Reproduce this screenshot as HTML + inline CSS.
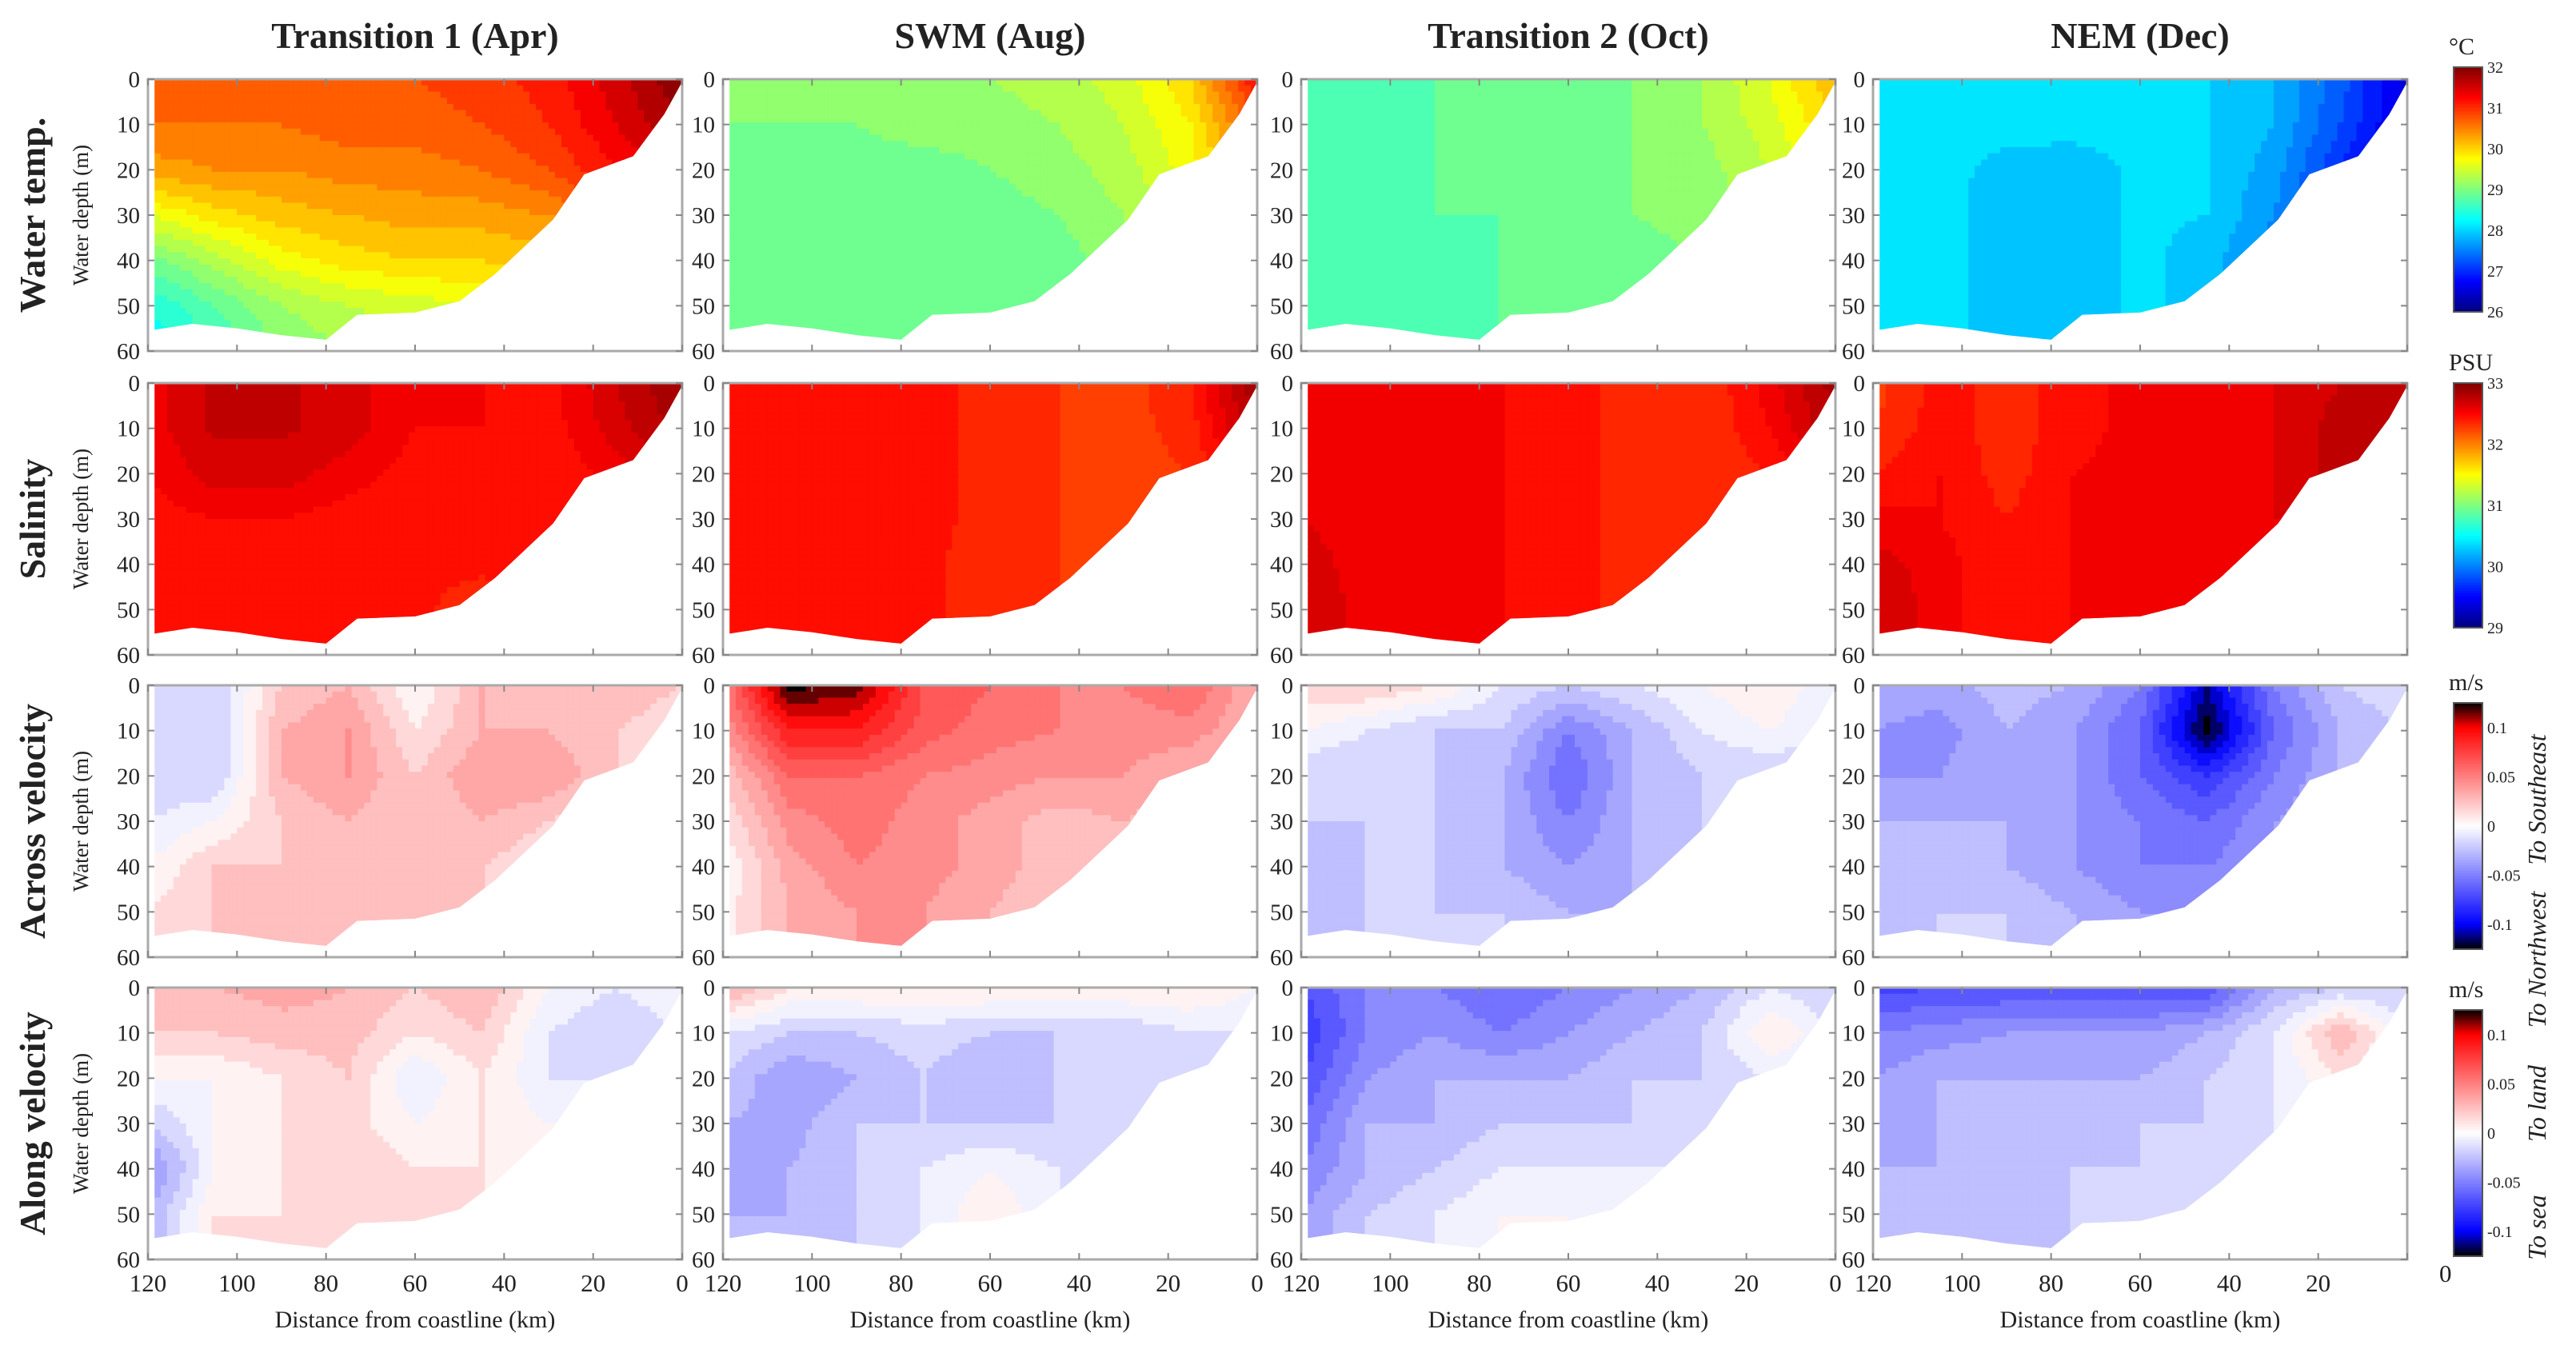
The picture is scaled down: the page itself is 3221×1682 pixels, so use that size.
<!DOCTYPE html>
<html><head><meta charset="utf-8">
<style>
html,body{margin:0;padding:0;background:#fff;}
svg{display:block;}
text{font-family:"Liberation Serif",serif;fill:#222;}
</style></head>
<body>
<svg id="fig" width="3221" height="1682" viewBox="0 0 3221 1682" xmlns="http://www.w3.org/2000/svg"></svg>
<script>
// ---------- data ----------
const distances = [120,105,90,75,60,45,30,15,0];   // km
const depths = [0,10,20,30,40,50,60];               // m
const bathyKm = [120,110,100,90,80,73,60,50,42,29,22,11,4,0];
const bathyDepth = [55.3,54,55,56.5,57.5,52,51.5,49,43,31,21,17,7.7,0.6];
const colTitles = ["Transition 1 (Apr)","SWM (Aug)","Transition 2 (Oct)","NEM (Dec)"];
const rowTitles = ["Water temp.","Salinity","Across velocity","Along velocity"];
const xTicks = [120,100,80,60,40,20,0];
const yTicks = [0,10,20,30,40,50,60];
const cbTempTicks = [32,31,30,29,28,27,26];
const cbSalTicks = [33,32,31,30,29];
const cbVelTicks = [0.1,0.05,0,-0.05,-0.1];
const cbVelLabels = ["0.1","0.05","0","-0.05","-0.1"];

const tempApr = [
[30.8,30.8,30.8,30.8,30.8,30.9,31.1,31.5,32],
[30.6,30.6,30.6,30.7,30.7,30.8,31.0,31.4,31.8],
[30.3,30.4,30.4,30.5,30.5,30.6,30.8,31.2,31.5],
[29.6,29.9,30.1,30.2,30.3,30.3,30.4,30.8,31.0],
[28.9,29.3,29.7,29.9,30.0,30.0,30.1,30.3,30.5],
[28.4,28.8,29.2,29.4,29.5,29.6,29.6,29.6,29.6],
[28.2,28.6,29.0,29.2,29.3,29.4,29.4,29.4,29.4]];
const tempAug = [
[29.1,29.1,29.1,29.1,29.2,29.3,29.5,30.0,31.2],
[29.0,29.0,29.0,29.1,29.1,29.2,29.4,29.8,30.8],
[28.9,28.9,28.9,28.9,29.0,29.1,29.3,29.7,30.5],
[28.8,28.8,28.8,28.8,28.9,29.0,29.2,29.5,30.2],
[28.8,28.8,28.8,28.8,28.9,28.9,29.1,29.3,29.8],
[28.8,28.8,28.8,28.8,28.9,28.9,29.1,29.2,29.6],
[28.8,28.8,28.8,28.8,28.9,28.9,29.1,29.2,29.5]];
const tempOct = [
[28.7,28.7,28.8,28.8,28.9,29.0,29.2,29.6,30.2],
[28.7,28.7,28.8,28.8,28.9,29.0,29.2,29.5,30.0],
[28.7,28.7,28.8,28.8,28.9,29.0,29.1,29.4,29.8],
[28.7,28.7,28.8,28.8,28.9,29.0,29.1,29.3,29.6],
[28.7,28.7,28.7,28.8,28.9,28.9,29.0,29.2,29.5],
[28.7,28.7,28.7,28.8,28.9,28.9,29.0,29.1,29.4],
[28.7,28.7,28.7,28.8,28.9,28.9,29.0,29.1,29.4]];
const tempDec = [
[28.1,28.1,28.1,28.1,28.1,28.0,27.8,27.3,26.5],
[28.1,28.1,28.1,28.1,28.1,28.0,27.8,27.2,26.5],
[28.1,28.1,27.9,27.85,28.05,28.0,27.7,27.0,26.4],
[28.1,28.1,27.85,27.85,28.05,28.0,27.6,27.0,26.4],
[28.1,28.1,27.85,27.85,28.05,27.9,27.5,27.0,26.4],
[28.1,28.1,27.85,27.85,28.05,27.9,27.5,27.0,26.4],
[28.1,28.1,27.85,27.85,28.05,27.9,27.5,27.0,26.4]];
const salApr = [
[32.55,32.72,32.72,32.65,32.5,32.5,32.45,32.7,32.9],
[32.55,32.72,32.72,32.65,32.5,32.5,32.45,32.65,32.85],
[32.5,32.65,32.65,32.55,32.45,32.45,32.4,32.55,32.75],
[32.45,32.5,32.5,32.45,32.42,32.42,32.42,32.5,32.6],
[32.42,32.45,32.45,32.42,32.42,32.42,32.42,32.5,32.6],
[32.42,32.42,32.42,32.42,32.42,32.35,32.42,32.5,32.6],
[32.42,32.42,32.42,32.42,32.42,32.35,32.42,32.5,32.6]];
const salAug = [
[32.45,32.45,32.45,32.45,32.35,32.3,32.25,32.4,32.9],
[32.45,32.45,32.45,32.45,32.35,32.3,32.25,32.35,32.8],
[32.45,32.45,32.45,32.45,32.35,32.3,32.25,32.3,32.6],
[32.45,32.45,32.45,32.45,32.35,32.3,32.25,32.3,32.5],
[32.45,32.45,32.45,32.42,32.35,32.3,32.25,32.3,32.5],
[32.45,32.45,32.45,32.42,32.35,32.3,32.25,32.3,32.5],
[32.45,32.45,32.45,32.42,32.35,32.3,32.25,32.3,32.5]];
const salOct = [
[32.5,32.5,32.5,32.5,32.45,32.35,32.3,32.55,32.85],
[32.5,32.5,32.5,32.5,32.45,32.35,32.3,32.5,32.8],
[32.55,32.5,32.5,32.5,32.45,32.35,32.3,32.4,32.6],
[32.6,32.55,32.5,32.5,32.45,32.35,32.3,32.35,32.5],
[32.65,32.55,32.5,32.5,32.45,32.35,32.3,32.35,32.5],
[32.7,32.55,32.5,32.5,32.45,32.35,32.3,32.35,32.5],
[32.7,32.55,32.5,32.5,32.45,32.35,32.3,32.35,32.5]];
const salDec = [
[32.25,32.45,32.35,32.45,32.55,32.55,32.6,32.7,32.8],
[32.3,32.45,32.35,32.45,32.55,32.55,32.6,32.75,32.8],
[32.4,32.5,32.35,32.5,32.55,32.55,32.6,32.75,32.75],
[32.55,32.5,32.4,32.5,32.55,32.55,32.6,32.65,32.65],
[32.65,32.55,32.4,32.5,32.55,32.55,32.55,32.6,32.6],
[32.7,32.55,32.4,32.5,32.55,32.55,32.55,32.6,32.6],
[32.7,32.55,32.4,32.5,32.55,32.55,32.55,32.6,32.6]];
const acrossApr = [
[-0.01,-0.02,0.02,0.03,0.0,0.03,0.02,0.03,0.02],
[-0.01,-0.02,0.03,0.04,0.01,0.03,0.03,0.02,0.01],
[-0.02,-0.02,0.03,0.04,0.02,0.04,0.04,0.02,0.01],
[-0.01,0.0,0.02,0.03,0.02,0.03,0.02,0.01,0.01],
[0.0,0.02,0.02,0.02,0.02,0.02,0.01,0.01,0.01],
[0.01,0.02,0.02,0.02,0.02,0.02,0.01,0.01,0.01],
[0.01,0.02,0.02,0.02,0.02,0.02,0.01,0.01,0.01]];
const acrossAug = [
[0.05,0.125,0.115,0.07,0.06,0.05,0.05,0.06,0.03],
[0.04,0.09,0.09,0.065,0.055,0.05,0.045,0.045,0.03],
[0.02,0.06,0.06,0.05,0.045,0.04,0.04,0.03,0.02],
[0.01,0.045,0.055,0.045,0.035,0.025,0.03,0.02,0.02],
[0.0,0.035,0.05,0.045,0.035,0.025,0.02,0.02,0.02],
[0.005,0.03,0.04,0.04,0.03,0.02,0.02,0.02,0.02],
[0.005,0.03,0.04,0.04,0.03,0.02,0.02,0.02,0.02]];
const acrossOct = [
[0.02,0.02,0.01,-0.01,-0.02,-0.01,0.0,0.01,-0.01],
[0.0,-0.01,-0.02,-0.02,-0.05,-0.03,-0.01,0.0,-0.01],
[-0.02,-0.02,-0.02,-0.03,-0.06,-0.03,-0.02,-0.02,-0.02],
[-0.02,-0.02,-0.02,-0.03,-0.05,-0.03,-0.02,-0.02,-0.02],
[-0.03,-0.02,-0.02,-0.03,-0.04,-0.03,-0.02,-0.02,-0.02],
[-0.03,-0.02,-0.02,-0.02,-0.03,-0.03,-0.02,-0.02,-0.02],
[-0.03,-0.02,-0.02,-0.02,-0.03,-0.03,-0.02,-0.02,-0.02]];
const acrossDec = [
[-0.03,-0.035,-0.025,-0.03,-0.05,-0.11,-0.05,-0.02,-0.01],
[-0.04,-0.045,-0.03,-0.04,-0.06,-0.125,-0.06,-0.03,-0.02],
[-0.04,-0.04,-0.03,-0.04,-0.06,-0.08,-0.05,-0.03,-0.02],
[-0.03,-0.03,-0.03,-0.04,-0.05,-0.06,-0.04,-0.03,-0.02],
[-0.03,-0.03,-0.03,-0.04,-0.05,-0.05,-0.04,-0.03,-0.02],
[-0.03,-0.02,-0.02,-0.03,-0.04,-0.04,-0.03,-0.03,-0.02],
[-0.03,-0.02,-0.02,-0.03,-0.04,-0.04,-0.03,-0.03,-0.02]];
const alongApr = [
[0.03,0.03,0.035,0.03,0.02,0.03,0.0,-0.01,0.0],
[0.02,0.02,0.025,0.025,0.01,0.02,-0.01,-0.02,-0.01],
[0.0,0.0,0.01,0.02,-0.01,0.01,-0.01,-0.01,0.0],
[-0.02,0.0,0.01,0.015,0.0,0.01,0.0,0.0,0.0],
[-0.045,0.0,0.01,0.02,0.01,0.01,0.0,0.0,0.0],
[-0.03,0.01,0.01,0.015,0.01,0.01,0.0,0.0,0.0],
[-0.03,0.01,0.01,0.015,0.01,0.01,0.0,0.0,0.0]];
const alongAug = [
[0.035,0.01,0.01,0.01,0.01,0.01,0.01,0.01,0.0],
[-0.01,-0.02,-0.02,-0.015,-0.02,-0.02,-0.02,-0.01,-0.01],
[-0.02,-0.04,-0.03,-0.02,-0.03,-0.02,-0.02,-0.02,-0.01],
[-0.03,-0.035,-0.02,-0.02,-0.02,-0.02,-0.02,-0.02,-0.01],
[-0.035,-0.03,-0.02,-0.01,0.0,-0.01,-0.02,-0.02,-0.01],
[-0.03,-0.03,-0.02,-0.01,0.01,-0.01,-0.02,-0.02,-0.01],
[-0.03,-0.03,-0.02,-0.01,0.01,-0.01,-0.02,-0.02,-0.01]];
const alongOct = [
[-0.07,-0.05,-0.05,-0.06,-0.05,-0.04,-0.03,-0.01,-0.02],
[-0.08,-0.05,-0.04,-0.05,-0.04,-0.03,-0.02,0.01,-0.01],
[-0.07,-0.04,-0.03,-0.03,-0.03,-0.02,-0.02,-0.01,-0.01],
[-0.06,-0.03,-0.03,-0.02,-0.02,-0.02,-0.02,-0.01,-0.01],
[-0.05,-0.03,-0.02,-0.01,-0.01,-0.01,-0.01,-0.01,-0.01],
[-0.04,-0.02,-0.01,0.0,0.0,-0.01,-0.01,-0.01,-0.01],
[-0.04,-0.02,-0.01,0.0,0.0,-0.01,-0.01,-0.01,-0.01]];
const alongDec = [
[-0.075,-0.07,-0.07,-0.07,-0.07,-0.07,-0.03,-0.02,-0.02],
[-0.05,-0.045,-0.04,-0.04,-0.04,-0.03,-0.01,0.03,-0.01],
[-0.04,-0.03,-0.03,-0.03,-0.03,-0.02,-0.01,0.01,0.0],
[-0.035,-0.03,-0.03,-0.03,-0.02,-0.02,-0.01,0.0,0.0],
[-0.03,-0.03,-0.03,-0.02,-0.02,-0.02,-0.01,0.0,0.0],
[-0.03,-0.03,-0.025,-0.02,-0.02,-0.02,-0.01,0.0,0.0],
[-0.03,-0.03,-0.025,-0.02,-0.02,-0.02,-0.01,0.0,0.0]];

const grids = [
 [tempApr,tempAug,tempOct,tempDec],
 [salApr,salAug,salOct,salDec],
 [acrossApr,acrossAug,acrossOct,acrossDec],
 [alongApr,alongAug,alongOct,alongDec]];

// ---------- layout ----------
const NS="http://www.w3.org/2000/svg";
const svg=document.getElementById('fig');
const colX=[185,904,1627,2342], PW=668;
const rowY=[99,479,857,1235], PH=340;
function el(tag,attrs,parent){const e=document.createElementNS(NS,tag);for(const k in attrs)e.setAttribute(k,attrs[k]);(parent||svg).appendChild(e);return e;}

function jet(t){t=Math.max(0,Math.min(1,t));
 const r=Math.max(0,Math.min(1,Math.min(4*t-1.5,-4*t+4.5)));
 const g=Math.max(0,Math.min(1,Math.min(4*t-0.5,-4*t+3.5)));
 const b=Math.max(0,Math.min(1,Math.min(4*t+0.5,-4*t+2.5)));
 return `rgb(${Math.round(r*255)},${Math.round(g*255)},${Math.round(b*255)})`;}
function bwr(v){
 const s=[[-0.125,0,0,0],[-0.1,0,0,255],[0,255,255,255],[0.1,255,0,0],[0.125,0,0,0]];
 v=Math.max(-0.125,Math.min(0.125,v));
 for(let i=0;i<s.length-1;i++){if(v<=s[i+1][0]){const f=(v-s[i][0])/(s[i+1][0]-s[i][0]);
  return `rgb(${Math.round(s[i][1]+f*(s[i+1][1]-s[i][1]))},${Math.round(s[i][2]+f*(s[i+1][2]-s[i][2]))},${Math.round(s[i][3]+f*(s[i+1][3]-s[i][3]))})`;}}
 return 'rgb(0,0,0)';}
function q(v,step){return Math.floor(v/step+1e-4)*step+step/2;}
const cmaps=[v=>jet((q(v,0.2)-26)/6), v=>jet((q(v,0.1)-29)/4), v=>bwr(q(v,0.01)), v=>bwr(q(v,0.01))];

function interp(g,km,d){
 let i=0; while(i<distances.length-2 && km<distances[i+1]) i++;
 let fx=(distances[i]-km)/(distances[i]-distances[i+1]); fx=Math.max(0,Math.min(1,fx));
 let j=0; while(j<depths.length-2 && d>depths[j+1]) j++;
 let fy=(d-depths[j])/(depths[j+1]-depths[j]); fy=Math.max(0,Math.min(1,fy));
 const a=g[j][i]*(1-fx)+g[j][i+1]*fx, b=g[j+1][i]*(1-fx)+g[j+1][i+1]*fx;
 return a*(1-fy)+b*fy;}

const defs=el('defs',{});
for(let r=0;r<4;r++)for(let c=0;c<4;c++){
 const x0=colX[c], y0=rowY[r];
 const xs=km=>x0+PW*(120-km)/120, ys=d=>y0+PH*d/60;
 const cid=`clip-${r}-${c}`;
 const cp=el('clipPath',{id:cid},defs);
 let dstr=`M${xs(118.5)},${ys(0)} L${xs(0)},${ys(0)}`;
 for(let k=bathyKm.length-1;k>=0;k--) dstr+=` L${xs(bathyKm[k]===120?118.5:bathyKm[k])},${ys(bathyDepth[k])}`;
 dstr+=' Z';
 el('path',{d:dstr},cp);
 const g=el('g',{'clip-path':`url(#${cid})`});
 
 
 const nx=84, ny=44, cw=PW/nx, ch=PH/ny;
 for(let iy=0;iy<ny;iy++)for(let ix=0;ix<nx;ix++){
  const km=120-(ix+0.5)*120/nx, d=(iy+0.5)*60/ny;
  const v=interp(grids[r][c],km,d);
  el('rect',{x:(x0+ix*cw).toFixed(1),y:(y0+iy*ch).toFixed(1),width:(cw+0.6).toFixed(1),height:(ch+0.6).toFixed(1),fill:cmaps[r](v)},g);
 }
 const fr=el('rect',{x:x0,y:y0,width:PW,height:PH,fill:'none',stroke:'#aaa','stroke-width':3});
 
 
 yTicks.forEach(t=>{
  el('line',{x1:x0,x2:x0+8,y1:ys(t),y2:ys(t),stroke:'#888','stroke-width':2});
  el('line',{x1:x0+PW-8,x2:x0+PW,y1:ys(t),y2:ys(t),stroke:'#888','stroke-width':2});
  const tl=el('text',{x:x0-10,y:ys(t)+10,'text-anchor':'end','font-size':29});
  tl.textContent=t;
  
  
 });
 xTicks.forEach(t=>{
  el('line',{x1:xs(t),x2:xs(t),y1:y0+PH-8,y2:y0+PH,stroke:'#888','stroke-width':2});
  el('line',{x1:xs(t),x2:xs(t),y1:y0,y2:y0+8,stroke:'#888','stroke-width':2});
  if(r===3 && !(c===3 && t===0)){
   const xl=el('text',{x:xs(t),y:y0+PH+40,'text-anchor':'middle','font-size':31});
   xl.textContent=t;
   
   
  }
 });
 if(r===3){
  const xt=el('text',{x:x0+PW/2,y:y0+PH+85,'text-anchor':'middle','font-size':30});
  xt.textContent='Distance from coastline (km)';
  
  
 }
 if(c===0){
  const yt=el('text',{x:0,y:0,'text-anchor':'middle','font-size':27,transform:`translate(110,${y0+PH/2}) rotate(-90)`});
  yt.textContent='Water depth (m)';
  
  
 }
}
colTitles.forEach((t,c)=>{
 const e=el('text',{x:colX[c]+PW/2,y:60,'text-anchor':'middle','font-size':46,'font-weight':'bold'});
 e.textContent=t;
 
 
});
rowTitles.forEach((t,r)=>{
 const e=el('text',{x:0,y:0,'text-anchor':'middle','font-size':46,'font-weight':'bold',transform:`translate(56,${rowY[r]+PH/2}) rotate(-90)`});
 e.textContent=t;
 
 
});

// ---------- colorbars ----------
const cbX=3068, cbW=36;
const cbs=[{y:84,h:306,unit:'°C',min:26,max:32,ticks:cbTempTicks,labels:cbTempTicks,f:v=>jet((v-26)/6)},
 {y:479,h:306,unit:'PSU',min:29,max:33,ticks:cbSalTicks,labels:cbSalTicks,f:v=>jet((v-29)/4)},
 {y:879,h:308,unit:'m/s',min:-0.125,max:0.125,ticks:cbVelTicks,labels:cbVelLabels,f:bwr},
 {y:1263,h:308,unit:'m/s',min:-0.125,max:0.125,ticks:cbVelTicks,labels:cbVelLabels,f:bwr}];
cbs.forEach((cb,i)=>{
 const g=el('g',{});
 
 
 const n=120;
 for(let k=0;k<n;k++){const v=cb.max-(k+0.5)*(cb.max-cb.min)/n;
  el('rect',{x:cbX,y:(cb.y+k*cb.h/n).toFixed(1),width:cbW,height:(cb.h/n+0.6).toFixed(1),fill:cb.f(v)},g);}
 el('rect',{x:cbX,y:cb.y,width:cbW,height:cb.h,fill:'none',stroke:'#555','stroke-width':2},g);
 const u=el('text',{x:cbX-6,y:cb.y-16,'font-size':30,'font-family':'Liberation Sans'},g);
 u.textContent=cb.unit;
 
 
 cb.ticks.forEach((t,k)=>{
  const yy=cb.y+cb.h*(cb.max-t)/(cb.max-cb.min);
  const tl=el('text',{x:cbX+cbW+6,y:yy+7,'font-size':20,'font-family':'Liberation Sans'},g);
  tl.textContent=cb.labels[k];
  
  
 });
});
const side=[['To Southeast',3183,1000],['To Northwest',3183,1200],['To land',3183,1380],['To sea',3183,1535]];
side.forEach(s=>{
 const e=el('text',{x:0,y:0,'text-anchor':'middle','font-size':32,'font-style':'italic','font-family':'Liberation Sans',transform:`translate(${s[1]},${s[2]}) rotate(-90)`});
 e.textContent=s[0];
 
 
});
const z=el('text',{x:3050,y:1603,'font-size':31});
z.textContent='0';


</script>
</body></html>
